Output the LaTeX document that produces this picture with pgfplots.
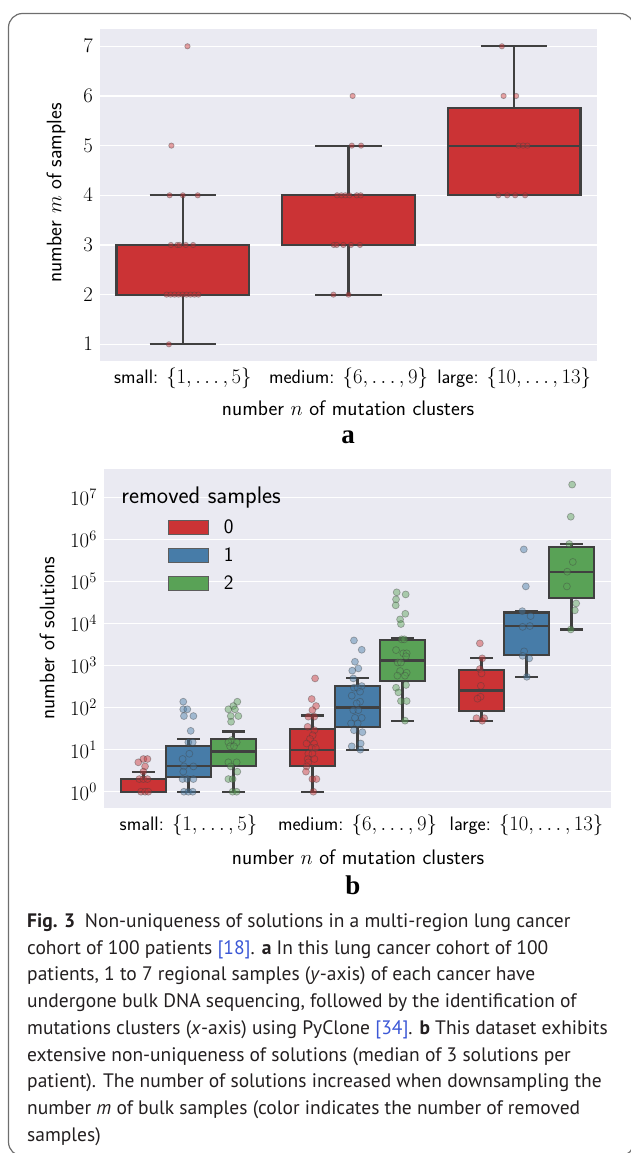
\documentclass[border=0pt]{standalone}
\usepackage{fontspec}
\usepackage{pgfplots}
\usepackage{pgfplotstable}
\pgfplotsset{compat=1.18}
\newfontfamily\capfont{PT Sans}
\newfontfamily\panelfont{Liberation Serif}

\definecolor{sbbg}{HTML}{EAEAF2}
\definecolor{cred}{HTML}{CB3335}
\definecolor{cblue}{HTML}{477CA8}
\definecolor{cgreen}{HTML}{59A256}
\definecolor{edge}{HTML}{404040}
\definecolor{linkblue}{HTML}{3B57D6}
\definecolor{framegray}{HTML}{6E6E6E}
\definecolor{captxt}{HTML}{231F20}

\pgfplotstableread{
x y
0.028 7
-0.069 5
-0.080 4
0.000 4
0.090 4
-0.072 3
-0.034 3
-0.020 3
0.018 3
0.062 3
-0.098 2
-0.074 2
-0.050 2
-0.026 2
-0.002 2
0.022 2
0.046 2
0.070 2
0.094 2
-0.084 1
1.025 6
1.020 5
1.076 5
0.931 4
0.957 4
0.981 4
1.005 4
1.050 4
1.074 4
0.911 3
0.929 3
0.969 3
1.015 3
1.069 3
0.909 2
1.000 2
1.926 7
1.936 6
2.012 6
2.026 5
2.054 5
2.080 5
1.904 4
1.958 4
2.006 4
2.066 4
}\ptsA

\pgfplotstableread{
x y
-0.267 6
-0.243 6
-0.297 5
-0.257 4
-0.267 3
-0.291 2
-0.267 2
-0.243 2
-0.281 1
-0.257 1
-0.238 1
0.749 494
0.729 160
0.755 109
0.733 87
0.709 61
0.745 61
0.705 35
0.745 29
0.735 22
0.719 18
0.699 14
0.743 14
0.729 11
0.753 11
0.709 8
0.733 8
0.745 6
0.705 6
0.709 5
0.699 4
0.695 3
0.733 2
0.757 2
0.739 1
1.724 3370
1.738 1480
1.724 830
1.734 650
1.730 330
1.728 181
1.710 163
1.704 56
1.750 56
1.738 48.7
}\ptsBzero

\pgfplotstableread{
x y
-0.031 138
-0.031 91
-0.007 91
-0.027 63
0.029 63
0.013 28
-0.001 15
0.025 15
0.005 8
-0.035 6
-0.027 4
0.029 4
-0.031 3
-0.035 2
-0.007 2
0.029 2
-0.027 1
-0.001 1
0.025 1
0.979 3950
1.025 2370
0.985 1230
1.005 854
0.969 755
0.975 494
1.025 325
0.979 298
1.001 298
1.015 239
0.966 192
1.015 138
0.995 126
0.975 87
1.005 87
0.985 57
1.025 57
0.962 42
1.001 42
0.979 29
1.029 26
1.019 14
0.966 12
1.017 10
1.984 576000
1.996 76000
1.975 19600
2.024 15000
2.020 8700
1.977 8300
1.986 2170
1.977 1700
2.016 1480
2.002 540
}\ptsBone

\pgfplotstableread{
x y
0.289 138
0.265 109
0.236 91
0.275 91
0.250 63
0.295 63
0.252 46
0.256 17
0.236 15
0.285 15
0.246 12
0.269 12
0.236 5
0.285 5
0.250 4
0.289 3
0.236 2
0.261 2
0.261 1
0.285 1
1.232 55000
1.285 49000
1.228 37500
1.226 27000
1.283 17000
1.252 12500
1.257 9700
1.261 4200
1.277 4200
1.228 2330
1.271 1950
1.291 1950
1.287 1660
1.238 1180
1.257 1180
1.252 740
1.291 675
1.236 575
1.281 575
1.287 345
1.228 297
1.242 230
1.257 143
1.291 143
1.281 49
2.270 20000000
2.262 3450000
2.253 776000
2.274 290000
2.241 170000
2.239 76000
2.294 30000
2.286 20500
2.262 7200
}\ptsBtwo

\pgfplotsset{
  sb/.style={
    scale only axis,
    axis background/.style={fill=sbbg},
    axis line style={draw=none},
    major tick style={draw=none},
    minor tick style={draw=none},
    ymajorgrids,
    major grid style={white, line width=1.4pt},
    xmin=-0.5, xmax=2.5,
    xtick={0,1,2},
    xticklabels={{small: $\{1,\ldots,5\}$},{medium: $\{6,\ldots,9\}$},{large: $\{10,\ldots,13\}$}},
    xticklabel style={font=\sffamily\fontsize{19.5}{21}\selectfont, anchor=center},
    yticklabel style={font=\fontsize{20}{22}\selectfont, anchor=east, inner sep=0pt, xshift=-7pt},
  },
  sbline/.style={draw=edge, line width=2.2pt, solid, mark=none, forget plot},
  ptstyle/.style={only marks, mark=*, forget plot, mark options={fill=#1, fill opacity=0.45, draw=edge, draw opacity=0.4, line width=0.7pt}},
}

% one box from its five values: #1 position, #2 lower whisker, #3 lower quartile,
% #4 median, #5 upper quartile, #6 upper whisker, #7 colour, #8 half box width
\newcommand{\sbbox}[8]{%
  \pgfmathsetmacro{\bxl}{#1-#8}\pgfmathsetmacro{\bxr}{#1+#8}%
  \pgfmathsetmacro{\cxl}{#1-0.5*#8}\pgfmathsetmacro{\cxr}{#1+0.5*#8}%
  \addplot[sbline] coordinates {(#1,#3) (#1,#2)};
  \addplot[sbline] coordinates {(#1,#5) (#1,#6)};
  \addplot[sbline] coordinates {(\cxl,#2) (\cxr,#2)};
  \addplot[sbline] coordinates {(\cxl,#6) (\cxr,#6)};
  \addplot[sbline, fill=#7] coordinates {(\bxl,#3) (\bxr,#3) (\bxr,#5) (\bxl,#5)} -- cycle;
  \addplot[sbline] coordinates {(\bxl,#4) (\bxr,#4)};
}

\begin{document}
\begin{tikzpicture}[x=1pt,y=1pt]
\path[use as bounding box] (0,0) rectangle (630,-1153);
\draw[framegray, line width=1.2pt, rounded corners=14pt] (8.5,-1156) rectangle (634,-13.5);

% ---------------- panel a
\begin{axis}[sb, at={(100pt,-360.5pt)}, anchor=south west, width=497pt, height=331pt,
  ymin=0.674, ymax=7.338, ytick={1,2,3,4,5,6,7}, xticklabel style={yshift=-18pt}]
\sbbox{0}{1}{2}{2}{3}{4}{cred}{0.4}
\sbbox{1}{2}{3}{4}{4}{5}{cred}{0.4}
\sbbox{2}{4}{4}{5}{5.75}{7}{cred}{0.4}
\addplot[ptstyle=cred, mark size=2.7pt] table {\ptsA};
\end{axis}

\node[font=\sffamily\fontsize{21}{23}\selectfont, rotate=90] at (56,-193) {number $m$ of samples};
\node[font=\sffamily\fontsize{21}{23}\selectfont] at (348,-408) {number $n$ of mutation clusters};
\node[font=\panelfont\bfseries\fontsize{27}{29}\selectfont] at (348,-437) {a};

% ---------------- panel b
\begin{axis}[sb, at={(104pt,-808pt)}, anchor=south west, width=507pt, height=339pt,
  ymode=log, ymin=0.41, ymax=4.7e7,
  ytick={1,10,100,1000,10000,100000,1000000,10000000},
  xticklabel style={yshift=-17pt},
  legend style={at={(axis description cs:0.126,0.855)}, anchor=north west, draw=none, fill=none,
    inner sep=0pt, outer sep=0pt, font=\sffamily\fontsize{20.5}{22}\selectfont, row sep=8.5pt,
    /tikz/every odd column/.append style={column sep=13pt}},
  legend cell align=left,
  legend image code/.code={\draw[#1, line width=1.1pt] (0pt,-7pt) rectangle (40pt,7pt);},
  ]
\sbbox{-0.2667}{1}{1}{1}{2}{3}{cred}{0.1333}
\sbbox{0}{1}{2.25}{4}{12}{18}{cblue}{0.1333}
\sbbox{0.2667}{1}{4}{9}{18}{27}{cgreen}{0.1333}
\sbbox{0.7333}{1}{4}{10}{31.5}{65}{cred}{0.1333}
\sbbox{1}{10}{34}{101}{325}{500}{cblue}{0.1333}
\sbbox{1.2667}{48.8}{436}{1320}{4050}{4400}{cgreen}{0.1333}
\sbbox{1.7333}{48.7}{83}{256}{780}{1480}{cred}{0.1333}
\sbbox{2}{540}{1780}{8700}{18300}{19600}{cblue}{0.1333}
\sbbox{2.2667}{7200}{41000}{170000}{645000}{760000}{cgreen}{0.1333}
\addplot[ptstyle=cred, mark size=3.5pt] table {\ptsBzero};
\addplot[ptstyle=cblue, mark size=3.5pt] table {\ptsBone};
\addplot[ptstyle=cgreen, mark size=3.5pt] table {\ptsBtwo};
\addlegendimage{fill=cred, draw=edge!85}
\addlegendentry{0}
\addlegendimage{fill=cblue, draw=edge!85}
\addlegendentry{1}
\addlegendimage{fill=cgreen, draw=edge!85}
\addlegendentry{2}
\node[font=\sffamily\fontsize{24}{26}\selectfont] at (axis description cs:0.1915,0.917) {removed samples};
\end{axis}

\node[font=\sffamily\fontsize{21}{23}\selectfont, rotate=90] at (47,-638) {number of solutions};
\node[font=\sffamily\fontsize{21}{23}\selectfont] at (358,-857) {number $n$ of mutation clusters};
\node[font=\panelfont\bfseries\fontsize{27}{29}\selectfont] at (353,-885) {b};

% ---------------- caption
\begin{scope}[every node/.style={anchor=base west, inner sep=0pt, text=captxt, font=\capfont\fontsize{19.5}{22}\selectfont}]
\node at (27,-927.5) {\textbf{Fig. 3}\enspace Non-uniqueness of solutions in a multi-region lung cancer};
\node at (27,-954.2) {cohort of 100 patients \textcolor{linkblue}{[18]}. \textbf{a} In this lung cancer cohort of 100};
\node at (27,-980.9) {patients, 1 to 7 regional samples (\textit{y}-axis) of each cancer have};
\node at (27,-1007.6) {undergone bulk DNA sequencing, followed by the identification of};
\node at (27,-1034.3) {mutations clusters (\textit{x}-axis) using PyClone \textcolor{linkblue}{[34]}. \textbf{b} This dataset exhibits};
\node at (27,-1061.0) {extensive non-uniqueness of solutions (median of 3 solutions per};
\node at (27,-1087.7) {patient). The number of solutions increased when downsampling the};
\node at (27,-1114.4) {number \textit{m} of bulk samples (color indicates the number of removed};
\node at (27,-1141.1) {samples)};
\end{scope}
\end{tikzpicture}
\end{document}
